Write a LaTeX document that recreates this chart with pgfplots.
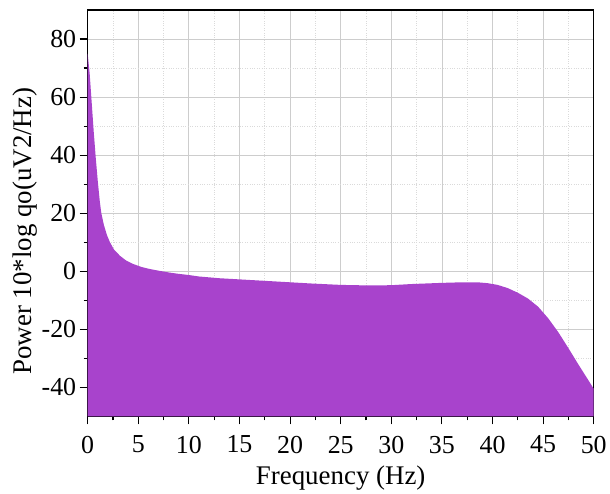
\documentclass[border=0pt]{standalone}
\usepackage{fontspec}
\setmainfont{Liberation Serif}
\usepackage{pgfplots}
\pgfplotsset{compat=1.18}
\definecolor{fillpurple}{RGB}{168,67,204}
\definecolor{majgrid}{RGB}{205,205,205}
\definecolor{mingrid}{RGB}{218,218,218}
\begin{document}
\begin{tikzpicture}
\begin{axis}[
  scale only axis,
  width=508bp, height=408bp,
  xmin=0, xmax=50, ymin=-50, ymax=90,
  xtick={0,5,...,50}, ytick={-40,-20,...,80},
  minor x tick num=1, minor y tick num=1,
  grid=both,
  major grid style={color=majgrid, line width=0.8pt},
  minor grid style={color=mingrid, dotted, line width=0.8pt},
  axis line style={line width=1.2pt, black},
  tick style={black, line width=1.1pt},
  major tick length=8bp, minor tick length=4bp,
  tick align=outside,
  xtick pos=bottom, ytick pos=left,
  /pgf/number format/assume math mode=true,
  tick label style={font=\fontsize{26bp}{30bp}\selectfont},
  label style={font=\fontsize{27bp}{31bp}\selectfont},
  xlabel={Frequency (Hz)},
  ylabel={Power 10*log qo(uV2/Hz)},
  xticklabel style={yshift=-8bp},
  xlabel style={yshift=-6bp},
  ylabel style={yshift=-2bp, xshift=-18bp},
]
\addplot[fill=fillpurple, draw=none] coordinates {
(0,75) (0.2,68) (0.4,58) (0.6,48) (0.8,39) (1.0,31) (1.2,24) (1.35,20) (1.6,16) (1.9,12.5) (2.2,10) (2.6,7.5) (3.2,5.3) (3.8,3.7) (4.5,2.5) (5.3,1.5) (6.1,0.8) (7,0.2) (8,-0.4) (9,-0.9) (10,-1.3) (11,-1.8) (13,-2.4) (15,-2.8) (18,-3.4) (20,-3.8) (22,-4.2) (25,-4.7) (28,-4.9) (30,-4.8) (32,-4.4) (35,-4.0) (37,-3.8) (38.5,-3.8) (39.5,-4.1) (40.5,-4.7) (41.5,-5.8) (42.5,-7.4) (43.5,-9.4) (44.5,-12.2) (45.5,-16.2) (46.5,-21) (47.5,-26.5) (48.5,-32.2) (49.5,-37.7) (50,-40.5) (50,-50) (0,-50)
} -- cycle;
\end{axis}
\path (current axis.south west) ++(-88bp,-73bp) rectangle ++(610bp,491bp);
\end{tikzpicture}
\end{document}
